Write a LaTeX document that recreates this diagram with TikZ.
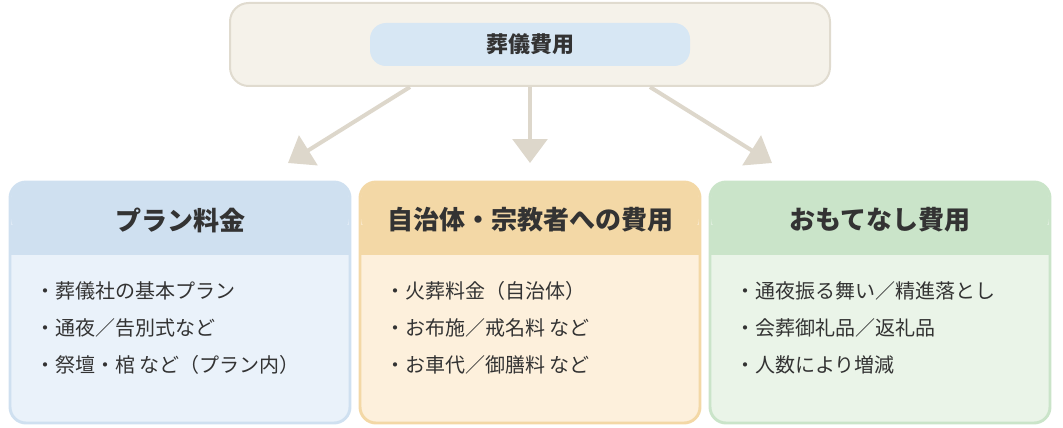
\documentclass[tikz,border=0pt]{standalone}
\usepackage{fontspec}
\setmainfont{Noto Sans CJK JP}
\usetikzlibrary{arrows.meta}
\definecolor{topfill}{HTML}{F5F2EA}
\definecolor{topline}{HTML}{E0DBCF}
\definecolor{pill}{HTML}{D7E7F4}
\definecolor{arrowc}{HTML}{DDD7CB}
\definecolor{txt}{HTML}{333333}
\definecolor{bluehead}{HTML}{CFE0F0}
\definecolor{bluebody}{HTML}{EAF2FA}
\definecolor{orangehead}{HTML}{F3D8A6}
\definecolor{orangebody}{HTML}{FDF0DC}
\definecolor{greenhead}{HTML}{CAE4C9}
\definecolor{greenbody}{HTML}{EAF4E8}
\tikzset{%
  >={Triangle[length=18pt,width=26pt]},
  flow arrow/.style={->,draw=arrowc,line width=3pt},
  item/.style={anchor=west,inner sep=0pt,font=\fontsize{15}{15}\selectfont,text=txt},
  head text/.style={font=\fontsize{19.5}{19.5}\selectfont\bfseries,text=txt}
}
% one column: #1 name, #2 left x, #3 colour, #4 title, #5-#7 items
\newcommand\CostBox[7]{%
  \draw[rounded corners=12pt,draw=#3head,line width=2.2pt,fill=#3body]
    (#2,182) rectangle ++(340,241);
  \fill[#3head,rounded corners=11pt] (#2+1.2,183.2) rectangle ++(337.6,50);
  \fill[#3head] (#2+1.2,225) rectangle ++(337.6,30);
  \node[head text] (#1) at (#2+170,220) {#4};
  \node[item] (#1a) at (#2+25,291) {・#5};
  \node[item] (#1b) at (#2+25,328) {・#6};
  \node[item] (#1c) at (#2+25,365) {・#7};
}
\begin{document}
\begin{tikzpicture}[x=0.75pt,y=-0.75pt]
\useasboundingbox (0,0) rectangle (1063,428);

%% top box
\node[draw=topline,fill=topfill,line width=1.5pt,rounded corners=14pt,
  minimum width=600*0.75pt,minimum height=83*0.75pt] (top) at (530,44.5) {};
\node[fill=pill,rounded corners=12pt,minimum width=320*0.75pt,
  minimum height=43*0.75pt,head text,font=\fontsize{16.5}{16.5}\selectfont\bfseries]
  (title) at (530,44.5) {葬儀費用};

%% arrows
\coordinate (endL) at (288,163);
\coordinate (endM) at (530,163);
\coordinate (endR) at (772,163);
\draw[flow arrow] (top.south) ++(-120,0) -- (endL);
\draw[flow arrow] (top.south) -- (endM);
\draw[flow arrow] (top.south) ++(120,0) -- (endR);

%% columns
\CostBox{plan}{10}{blue}{プラン料金}{葬儀社の基本プラン}{通夜／告別式など}{祭壇・棺 など（プラン内）}
\CostBox{public}{360}{orange}{自治体・宗教者への費用}{火葬料金（自治体）}{お布施／戒名料 など}{お車代／御膳料 など}
\CostBox{host}{710}{green}{おもてなし費用}{通夜振る舞い／精進落とし}{会葬御礼品／返礼品}{人数により増減}
\end{tikzpicture}
\end{document}
